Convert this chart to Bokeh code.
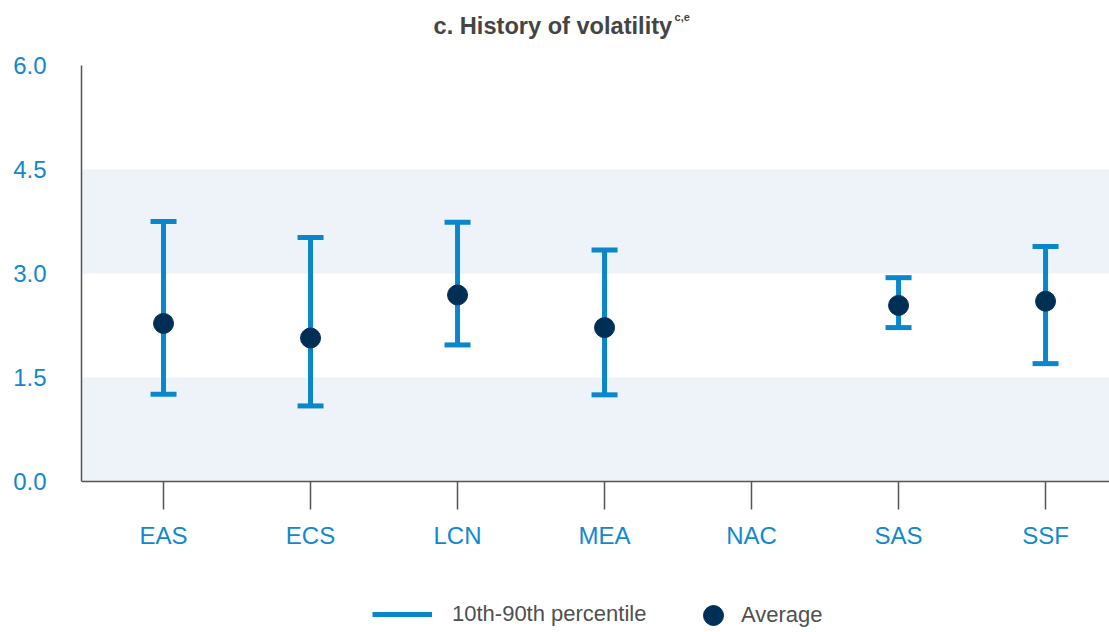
from bokeh.plotting import figure
from bokeh.models import (ColumnDataSource, Range1d, FixedTicker, NumeralTickFormatter,
                          BoxAnnotation, Whisker, TeeHead, Legend, LegendItem, Label)
from bokeh.embed import file_html
from bokeh.resources import INLINE

# ---- data ----
regions = ["EAS", "ECS", "LCN", "MEA", "NAC", "SAS", "SSF"]
p10 = [1.26, 1.09, 1.97, 1.25, None, 2.22, 1.70]
p90 = [3.75, 3.52, 3.74, 3.34, None, 2.94, 3.39]
average = [2.28, 2.07, 2.69, 2.22, None, 2.54, 2.60]
y_ticks = [0.0, 1.5, 3.0, 4.5, 6.0]
title_text = "c. History of volatility"
title_sup = "c,e"

BLUE = "#0a86ca"
NAVY = "#002f56"
LABEL_BLUE = "#1189cf"
BAND = "#eef3fa"
FONT = "Liberation Sans"

# category slots: region i is centred at i + 0.5
xpos = [i + 0.5 for i in range(len(regions))]
idx = [i for i, v in enumerate(average) if v is not None]
src = ColumnDataSource(dict(
    x=[xpos[i] for i in idx],
    lo=[p10[i] for i in idx],
    hi=[p90[i] for i in idx],
    avg=[average[i] for i in idx],
))

# the frame spans the whole canvas height so that title and legend sit inside it;
# the x axis is pinned at y = 0 and the y axis line is bounded to 0..6
p = figure(x_range=Range1d(-0.058, 6.935), y_range=Range1d(-2.178, 6.938),
           width=1109, height=632, output_backend="svg", toolbar_location=None,
           min_border_left=81, min_border_right=0, min_border_top=0, min_border_bottom=0)
p.outline_line_color = None
p.xgrid.visible = False
p.ygrid.visible = False
p.background_fill_color = "white"
p.border_fill_color = "white"

# bands
for b, t in [(0, 1.5), (3.0, 4.5)]:
    p.add_layout(BoxAnnotation(bottom=b, top=t, fill_color=BAND, fill_alpha=1.0, line_color=None, level="underlay"))

# error bars
seg = p.segment(x0="x", y0="lo", x1="x", y1="hi", source=src, line_color=BLUE, line_width=5)
wh = Whisker(base="x", lower="lo", upper="hi", source=src, dimension="height", line_alpha=0,
             upper_head=TeeHead(size=26, line_color=BLUE, line_width=5),
             lower_head=TeeHead(size=26, line_color=BLUE, line_width=5))
p.add_layout(wh)
dots = p.scatter(x="x", y="avg", source=src, size=20, fill_color=NAVY, line_color=NAVY)

# axes
ya = p.yaxis[0]
ya.ticker = FixedTicker(ticks=y_ticks)
ya.bounds = (0, 6)
ya.formatter = NumeralTickFormatter(format="0.0")
ya.major_tick_line_color = None
ya.minor_tick_line_color = None
ya.major_tick_out = 0
ya.major_tick_in = 0
ya.major_label_standoff = 35
ya.axis_line_color = "#555555"
ya.axis_line_width = 1.5
ya.major_label_text_font = FONT
ya.major_label_text_font_size = "24px"
ya.major_label_text_color = LABEL_BLUE

xa = p.xaxis[0]
xa.fixed_location = 0
xa.ticker = FixedTicker(ticks=xpos, minor_ticks=[])
xa.major_label_overrides = {x: r for x, r in zip(xpos, regions)}
xa.major_tick_line_color = "#555555"
xa.major_tick_line_width = 1.5
xa.major_tick_out = 28
xa.major_tick_in = 0
xa.minor_tick_line_color = None
xa.axis_line_color = "#555555"
xa.axis_line_width = 1.5
xa.major_label_standoff = 12
xa.major_label_text_font = FONT
xa.major_label_text_font_size = "24px"
xa.major_label_text_color = LABEL_BLUE

# title (as labels, with superscript)
p.add_layout(Label(x=2.337, y=6.577, text=title_text, text_font=FONT, text_font_size="23.6px",
                   text_font_style="bold", text_color="#444444", text_align="left",
                   text_baseline="alphabetic"))
p.add_layout(Label(x=3.976, y=6.70, text=title_sup, text_font=FONT, text_font_size="11px",
                   text_font_style="bold", text_color="#444444", text_align="left",
                   text_baseline="alphabetic"))

# legends at the bottom
common = dict(orientation="horizontal", padding=0, margin=0, border_line_color=None,
              background_fill_alpha=0, label_text_font=FONT, label_text_font_size="22px",
              label_text_color="#505050")
leg1 = Legend(items=[LegendItem(label="10th-90th percentile", renderers=[seg])],
              location=(291, 5), glyph_width=60, glyph_height=24, label_height=24,
              label_standoff=20, **common)
leg2 = Legend(items=[LegendItem(label="Average", renderers=[dots])],
              location=(607, -8), glyph_width=50, glyph_height=50, label_height=50,
              label_standoff=3, **common)
p.add_layout(leg1, "center")
p.add_layout(leg2, "center")

open("out.html", "w").write(file_html(p, INLINE))
